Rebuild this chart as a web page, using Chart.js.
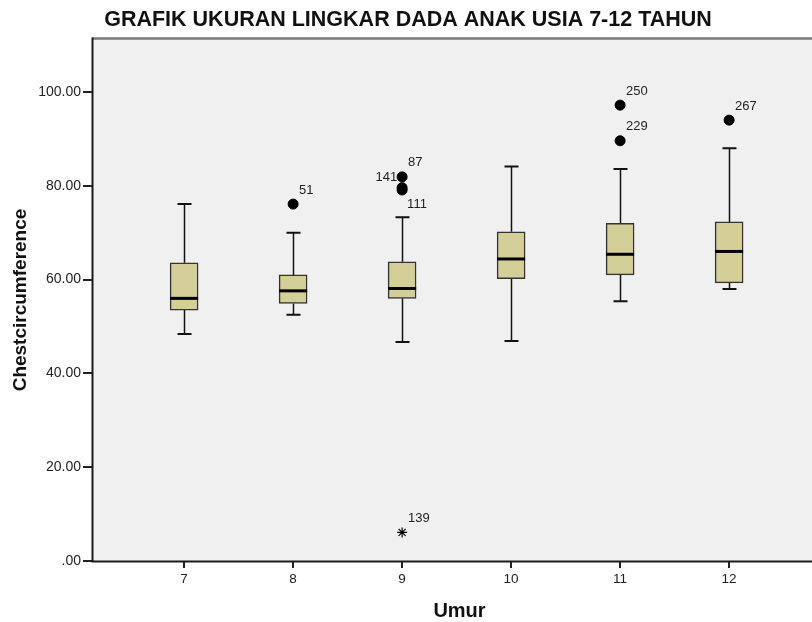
<!DOCTYPE html>
<html>
<head>
<meta charset="utf-8">
<script src="https://cdn.jsdelivr.net/npm/chart.js@4.4.1/dist/chart.umd.min.js"></script>
<style>
    html, body { margin: 0; padding: 0; background: #fff; overflow: hidden; }
    #wrap { position: absolute; left: 0; top: 0; width: 838px; height: 622px; }
</style>
</head>
<body>
<div id="wrap"><canvas id="boxChart"></canvas></div>
<script>
// Lingkar dada per umur (box = Q1..Q3, garis = median, whisker = min/max non-outlier)
const ages = [7, 8, 9, 10, 11, 12];
const whiskerLow = [48.4, 52.5, 46.7, 46.9, 55.4, 58.0];
const q1 = [53.5, 54.9, 56.0, 60.2, 61.0, 59.3];
const median = [56.0, 57.6, 58.1, 64.4, 65.4, 66.0];
const q3 = [63.6, 61.0, 63.8, 70.2, 72.0, 72.3];
const whiskerHigh = [76.1, 70.0, 73.3, 84.1, 83.6, 88.0];

// outlier (o) dan nilai ekstrem (*)
const outlierAge = [8, 9, 9, 9, 11, 11, 12];
const outlierValue = [76.1, 81.9, 79.6, 79.1, 97.2, 89.6, 94.0];
const outlierId = ['51', '87', '141', '111', '250', '229', '267'];
const extremeAge = [9];
const extremeValue = [6.1];
const extremeId = ['139'];

const yTicks = [0, 20, 40, 60, 80, 100];

const FONT = "'Liberation Sans', Arial, sans-serif";
const BOX_W = 28;
const CAP_W = 14;

const plotFrame = {
    id: 'plotFrame',
    beforeDraw(chart) {
        const { ctx, chartArea: a } = chart;
        ctx.save();
        ctx.fillStyle = '#f0f0f0';
        ctx.fillRect(a.left, a.top, a.right - a.left, a.bottom - a.top);
        ctx.restore();
    },
    afterDraw(chart) {
        const { ctx, chartArea: a } = chart;
        ctx.save();
        ctx.strokeStyle = '#7a7a7a';
        ctx.lineWidth = 2.5;
        ctx.beginPath();
        ctx.moveTo(a.left, a.top - 0.5);
        ctx.lineTo(a.right, a.top - 0.5);
        ctx.stroke();
        ctx.strokeStyle = '#1a1a1a';
        ctx.lineWidth = 2;
        ctx.beginPath();
        ctx.moveTo(a.left + 0.5, a.top - 1.5);
        ctx.lineTo(a.left + 0.5, a.bottom + 0.5);
        ctx.lineTo(a.right, a.bottom + 0.5);
        ctx.stroke();
        ctx.restore();
    }
};

const whiskers = {
    id: 'whiskers',
    beforeDatasetsDraw(chart) {
        const { ctx, scales: { x, y } } = chart;
        ctx.save();
        ctx.strokeStyle = '#111';
        ages.forEach((age, i) => {
            const px = Math.round(x.getPixelForValue(age)) + 0.5;
            ctx.lineWidth = 1.5;
            ctx.beginPath();
            ctx.moveTo(px, y.getPixelForValue(whiskerHigh[i]));
            ctx.lineTo(px, y.getPixelForValue(q3[i]));
            ctx.moveTo(px, y.getPixelForValue(q1[i]));
            ctx.lineTo(px, y.getPixelForValue(whiskerLow[i]));
            ctx.stroke();
            ctx.lineWidth = 2;
            ctx.beginPath();
            [whiskerHigh[i], whiskerLow[i]].forEach(v => {
                const py = y.getPixelForValue(v);
                ctx.moveTo(px - CAP_W / 2, py);
                ctx.lineTo(px + CAP_W / 2, py);
            });
            ctx.stroke();
        });
        ctx.restore();
    },
    afterDatasetsDraw(chart) {
        const { ctx, scales: { x, y } } = chart;
        ctx.save();
        ctx.strokeStyle = '#000';
        ctx.lineWidth = 3;
        ages.forEach((age, i) => {
            const px = x.getPixelForValue(age);
            const py = y.getPixelForValue(median[i]);
            ctx.beginPath();
            ctx.moveTo(px - BOX_W / 2, py);
            ctx.lineTo(px + BOX_W / 2, py);
            ctx.stroke();
        });

        // nomor kasus di samping titik
        ctx.fillStyle = '#222';
        ctx.font = '13px ' + FONT;
        ctx.textBaseline = 'middle';
        const place = { '141': 'left', '111': 'below' };
        const label = (age, v, id) => {
            const px = x.getPixelForValue(age);
            const py = y.getPixelForValue(v);
            const side = place[id] || 'above';
            if (side === 'left') {
                ctx.textAlign = 'right';
                ctx.fillText(id, px - 5, py - 10);
            } else if (side === 'below') {
                ctx.textAlign = 'left';
                ctx.fillText(id, px + 5, py + 14);
            } else {
                ctx.textAlign = 'left';
                ctx.fillText(id, px + 6, py - 14);
            }
        };
        outlierAge.forEach((a, i) => label(a, outlierValue[i], outlierId[i]));
        extremeAge.forEach((a, i) => label(a, extremeValue[i], extremeId[i]));
        ctx.restore();
    }
};

new Chart(document.getElementById('boxChart'), {
    type: 'bar',
    data: {
        datasets: [{
            type: 'bar',
            data: ages.map((a, i) => ({ x: a, y: [q1[i], q3[i]] })),
            backgroundColor: '#d4cf99',
            borderColor: '#333',
            borderWidth: 1.5,
            borderSkipped: false,
            barThickness: BOX_W
        }, {
            type: 'scatter',
            data: outlierAge.map((a, i) => ({ x: a, y: outlierValue[i] })),
            pointStyle: 'circle',
            pointRadius: 5,
            backgroundColor: '#000',
            borderColor: '#000'
        }, {
            type: 'scatter',
            data: extremeAge.map((a, i) => ({ x: a, y: extremeValue[i] })),
            pointStyle: 'star',
            pointRadius: 5,
            borderWidth: 1.2,
            borderColor: '#000',
            backgroundColor: '#000'
        }]
    },
    options: {
        responsive: true,
        maintainAspectRatio: false,
        animation: false,
        layout: { padding: { left: -11, top: 0, bottom: 0, right: 11 } },
        plugins: {
            legend: { display: false },
            tooltip: { enabled: false },
            title: {
                display: true,
                text: 'GRAFIK UKURAN LINGKAR DADA ANAK USIA 7-12 TAHUN',
                color: '#111',
                font: { family: FONT, size: 21.5, weight: 'bold', lineHeight: 1.2 },
                padding: { top: 7, bottom: 6.2 }
            }
        },
        scales: {
            x: {
                type: 'linear',
                offset: false,
                min: 6.155,
                max: 12.898,
                afterBuildTicks: s => { s.ticks = ages.map(v => ({ value: v })); },
                afterFit: s => { s.height = 61; },
                grid: { offset: false, drawOnChartArea: false, drawTicks: true, tickLength: 7, lineWidth: 2, color: '#222' },
                border: { display: false },
                ticks: { color: '#222', font: { family: FONT, size: 13.5 }, padding: 3 },
                title: {
                    display: true,
                    text: 'Umur',
                    color: '#111',
                    font: { family: FONT, size: 20, weight: 'bold', lineHeight: 1.1 },
                    padding: { top: 0, bottom: 0 }
                }
            },
            y: {
                min: 0,
                max: 111.3,
                afterBuildTicks: s => { s.ticks = yTicks.map(v => ({ value: v })); },
                afterFit: s => { s.width = 103; },
                grid: { drawOnChartArea: false, drawTicks: true, tickLength: 9, lineWidth: 2, color: '#222' },
                border: { display: false },
                ticks: {
                    color: '#222',
                    font: { family: FONT, size: 14 },
                    padding: 2,
                    callback: v => v === 0 ? '.00' : v.toFixed(2)
                },
                title: {
                    display: true,
                    text: 'Chestcircumference',
                    color: '#111',
                    font: { family: FONT, size: 19, weight: 'bold', lineHeight: 1.2 },
                    padding: { top: 20.6, bottom: 0 }
                }
            }
        }
    },
    plugins: [plotFrame, whiskers]
});
</script>
</body>
</html>
